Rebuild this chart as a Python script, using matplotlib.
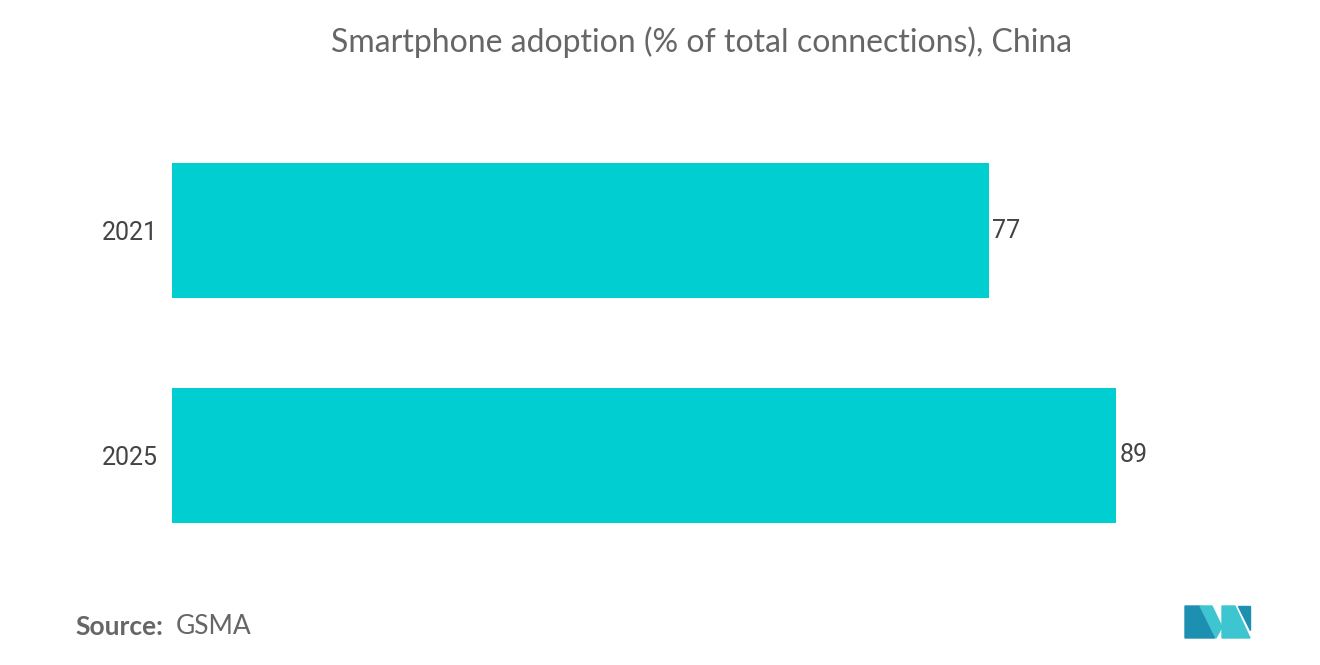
import matplotlib
matplotlib.use("Agg")
import matplotlib.pyplot as plt
from matplotlib.patches import Polygon

categories = ["2021", "2025"]
values = [77, 89]
bar_color = "#00CED1"

fig = plt.figure(figsize=(13.2, 6.65), dpi=100)
ax = fig.add_axes([172/1320, 97/665, 1061/1320, 450/665])
ypos = list(range(len(categories)))
ax.barh(ypos, values, height=0.6, color=bar_color)
ax.set_xlim(0, 100)
ax.set_ylim(1.5, -0.5)
ax.set_yticks(ypos)
ax.set_yticklabels(categories, fontsize=18, color="#444444", family="Roboto")
ax.tick_params(axis="y", length=0, pad=10)
ax.set_xticks([])
for s in ax.spines.values():
    s.set_visible(False)
for y, v in zip(ypos, values):
    ax.text(v + 0.3, y, str(v), va="center", ha="left", fontsize=18,
            color="#444444", family="Roboto")

fig.text(702/1320, 1 - 42/665, "Smartphone adoption (% of total connections), China",
         ha="center", va="center", fontsize=23, color="#666666", family="Lato")
fig.text(75/1320, 1 - 627/665, "Source:", ha="left", va="center", fontsize=19,
         color="#666666", family="Lato", fontweight="bold")
fig.text(176/1320, 1 - 627/665, "GSMA", ha="left", va="center", fontsize=19,
         color="#666666", family="Lato")

# logo
def P(pts, c):
    fig.patches.append(Polygon([(x/1320, 1 - y/665) for x, y in pts], closed=True,
                               color=c, transform=fig.transFigure))
P([(1185, 638), (1185, 606), (1200, 606), (1215, 638)], "#1D8FB0")
P([(1200, 606), (1212, 606), (1222, 627), (1216, 638)], "#3EC6D0")
P([(1222, 638), (1222, 606), (1235, 606), (1250, 638)], "#3EC6D0")
P([(1238, 606), (1250, 606), (1250, 630)], "#1D8FB0")

fig.savefig("out.png", dpi=100, facecolor="white")
